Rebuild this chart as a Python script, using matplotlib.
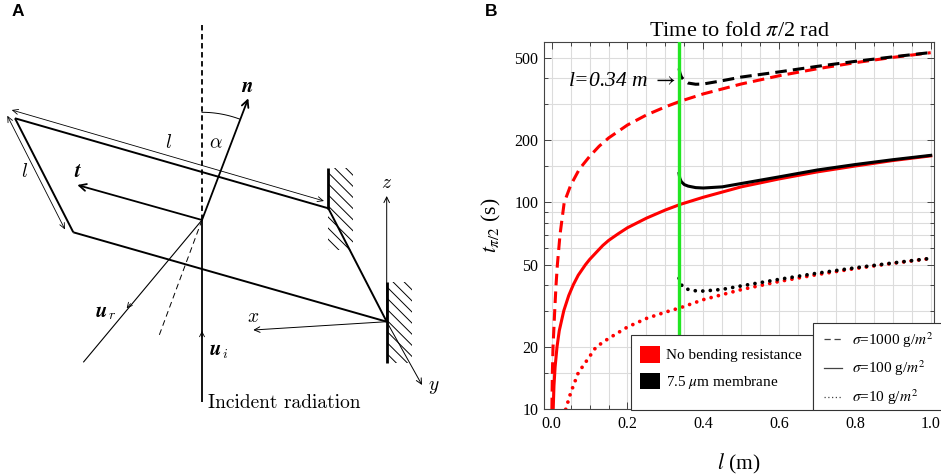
import numpy as np
import matplotlib
matplotlib.use('Agg')
import matplotlib.pyplot as plt
from matplotlib.patches import Rectangle, Patch
from matplotlib.lines import Line2D
from matplotlib.ticker import FixedLocator, NullFormatter

plt.rcParams['font.family'] = ['Liberation Serif', 'DejaVu Serif']
plt.rcParams['mathtext.fontset'] = 'stix'
plt.rcParams['hatch.linewidth'] = 0.7

# ---------------- Panel B data ----------------
l_red_1000 = [0.0005, 0.0018, 0.0035, 0.008, 0.0115, 0.015, 0.022, 0.033, 0.05, 0.073, 0.1,
              0.125, 0.15, 0.2, 0.25, 0.3, 0.34, 0.4, 0.5, 0.6, 0.7, 0.8, 0.9, 1.0]
t_red_1000 = [10, 15, 20, 30, 40, 50, 70, 100, 121, 145, 167,
              187, 205, 237, 265, 290, 309, 335, 374, 410, 443, 474, 503, 530]

l_red_100 = [0.004, 0.006, 0.009, 0.014, 0.02, 0.032, 0.045, 0.057, 0.07, 0.089, 0.1, 0.12,
             0.135, 0.15, 0.175, 0.2, 0.25, 0.3, 0.34, 0.4, 0.5, 0.6, 0.7, 0.8, 0.9, 1.0]
t_red_100 = [10, 13, 16, 20, 24, 30, 35.5, 40, 44.5, 50, 53, 58,
             62, 65.5, 70.5, 75.5, 84, 92, 98, 106, 119, 130, 140.5, 150, 159.5, 168]

l_red_10 = [0.037, 0.05, 0.07, 0.1, 0.117, 0.15, 0.2, 0.25, 0.3, 0.34, 0.4, 0.5, 0.6, 0.7,
            0.8, 0.9, 1.0]
t_red_10 = [10, 12, 15, 18, 20, 22, 25, 27.5, 29.5, 31, 33.9, 37.9, 41.5, 44.8,
            47.9, 50.8, 53.6]

l_black = [0.336, 0.338, 0.342, 0.35, 0.36, 0.38, 0.4, 0.45, 0.5, 0.6, 0.7, 0.8, 0.9, 1.0]
t_black_1000 = [445, 425, 405, 388, 378, 373, 374, 388, 404, 428, 455, 481, 506, 531]
t_black_100 = [138, 131, 126, 122, 120, 118, 117.5, 119, 123.5, 133, 143.5, 152.5, 161, 169]
t_black_10 = [43, 41.5, 40, 38.6, 38, 37.4, 37.3, 38, 39.5, 42.5, 45.5, 48.3, 51, 53.7]

l_threshold = 0.335
annot_text = r'l=0.34 m $\rightarrow$'
legend_colors = ['No bending resistance', r'7.5 $\mu$m membrane']
legend_sigma = [r'$\sigma$=1000 g/$m^2$', r'$\sigma$=100 g/$m^2$', r'$\sigma$=10 g/$m^2$']
y_major = [10, 20, 50, 100, 200, 500]
y_minor = [15, 30, 40, 60, 70, 80, 90, 150, 300, 400]
x_major = [0.0, 0.2, 0.4, 0.6, 0.8, 1.0]
x_minor = [0.05, 0.1, 0.15, 0.25, 0.3, 0.35, 0.45, 0.5, 0.55, 0.65, 0.7, 0.75, 0.85, 0.9, 0.95]

# ---------------- Panel A geometry (pixel space of the left half) ----------------
P = (202, 220)
dash_top = (202, 25)
n_tip = (248.3, 98.3)
t_tip = (77.3, 185)
TL, TR, BL, BR = (15, 118.3), (328.3, 208.3), (73.3, 232.3), (386.7, 321.7)
dim_top = [(11.7, 110), (324, 201)]
dim_left = [(7.3, 115.7), (65, 229.5)]
wall1 = [(328.3, 168.3), (328.3, 209.3)]
wall2 = [(386.7, 281.7), (386.7, 363.3)]
hatch1 = (328.3, 168.3, 24.7, 81.7)
hatch2 = (386.7, 281.7, 25.0, 81.6)
z_tip, x_tip, y_tip = (386.7, 196), (253.3, 330), (422, 385)
ur_end = (83.3, 362.3)
ur_mid = (126.7, 308.3)
dash_refl_end = (158.3, 337.7)
inc_end = (202, 401.7)
inc_mid = (202, 331)
R_ARC = 107.7

W, H = 941, 474
fig = plt.figure(figsize=(W / 100, H / 100), dpi=100)

# ================= Panel A =================
ax0 = fig.add_axes([0, 0, 470 / W, 1])
ax0.set_xlim(0, 470)
ax0.set_ylim(474, 0)
ax0.axis('off')

def seg(a, b, **kw):
    ax0.plot([a[0], b[0]], [a[1], b[1]], color='k', solid_capstyle='butt', **kw)

def arrow(tail, tip, lw=1.0, hl=0.5, hw=0.25):
    ax0.annotate('', xy=tip, xytext=tail,
                 arrowprops=dict(arrowstyle=f'->,head_length={hl},head_width={hw}',
                                 lw=lw, color='k', shrinkA=0, shrinkB=0))

# plate
for a, b in [(TL, TR), (TL, BL), (BL, BR), (TR, BR)]:
    seg(a, b, lw=1.4)
# dimension lines
ax0.annotate('', xy=dim_top[1], xytext=dim_top[0],
             arrowprops=dict(arrowstyle='<->,head_length=0.4,head_width=0.18', lw=0.6,
                             color='k', shrinkA=0, shrinkB=0))
ax0.annotate('', xy=dim_left[1], xytext=dim_left[0],
             arrowprops=dict(arrowstyle='<->,head_length=0.4,head_width=0.18', lw=0.6,
                             color='k', shrinkA=0, shrinkB=0))
# walls
seg(*wall1, lw=2.0)
seg(*wall2, lw=2.0)
for (hx, hy, hw_, hh) in [hatch1, hatch2]:
    ax0.add_patch(Rectangle((hx, hy), hw_, hh, fill=False, hatch='\\\\\\', lw=0,
                            edgecolor='k'))
# vertical dashed and incident line
ax0.plot([dash_top[0], P[0]], [dash_top[1], P[1]], color='k', lw=1.3,
         linestyle=(0, (3.0, 2.0)))
seg(P, inc_end, lw=1.3)
arrow((inc_mid[0], inc_mid[1] + 6), inc_mid, lw=0.6, hl=0.35, hw=0.18)
# n, t arrows
arrow(P, n_tip, lw=1.3)
arrow(P, t_tip, lw=1.3)
# alpha arc
th_n = np.arctan2(n_tip[0] - P[0], P[1] - n_tip[1])
th = np.linspace(0, th_n, 40)
ax0.plot(P[0] + R_ARC * np.sin(th), P[1] - R_ARC * np.cos(th), color='k', lw=0.7)
# reflected ray and dashed normal extension
seg(P, ur_end, lw=0.8)
d = np.array(ur_end) - np.array(P)
d = d / np.hypot(*d)
arrow((ur_mid[0] - 6 * d[0], ur_mid[1] - 6 * d[1]), ur_mid, lw=0.6, hl=0.35, hw=0.18)
ax0.plot([P[0], dash_refl_end[0]], [P[1], dash_refl_end[1]], color='k', lw=0.7,
         linestyle=(0, (6, 4)))
# axes
arrow(BR, z_tip, lw=0.7, hl=0.4, hw=0.2)
arrow(BR, x_tip, lw=0.7, hl=0.4, hw=0.2)
arrow(BR, y_tip, lw=0.7, hl=0.4, hw=0.2)

cm = dict(math_fontfamily='cm', fontsize=14, ha='center', va='center')
bi = dict(family='STIXGeneral', weight='bold', style='italic', fontsize=15,
          ha='center', va='center')
ax0.text(247.3, 86, 'n', **bi)
ax0.text(76.7, 171.7, 't', **bi)
ax0.text(216, 143.3, r'$\alpha$', **cm)
ax0.text(168.3, 143, r'$l$', **cm)
ax0.text(25, 172, r'$l$', **cm)
ax0.text(387, 183, r'$z$', **cm)
ax0.text(253.3, 317, r'$x$', **cm)
ax0.text(434, 387, r'$y$', **cm)
ax0.text(101.7, 311, 'u', **bi)
ax0.text(112, 315.5, r'$r$', math_fontfamily='cm', fontsize=10, ha='center', va='center')
ax0.text(216, 349, 'u', **bi)
ax0.text(225.5, 354, r'$i$', math_fontfamily='cm', fontsize=10, ha='center', va='center')
ax0.text(208.3, 403.3, 'Incident radiation', family='cmr10', fontsize=14,
         ha='left', va='center')

fig.text(11.7 / W, 1 - 4 / H, 'A', family='Liberation Sans', weight='bold', fontsize=12.5,
         ha='left', va='top')
fig.text(485 / W, 1 - 4 / H, 'B', family='Liberation Sans', weight='bold', fontsize=12.5,
         ha='left', va='top')

# ================= Panel B =================
ax = fig.add_axes([544 / W, 1 - 409.3 / H, (934 - 544) / W, (409.3 - 41.7) / H])
ax.set_yscale('log')
ax.set_xlim(-0.0203, 1.0087)
ax.set_ylim(10, 599)

LW = 2.2
dash = (0, (3.8, 2.0))
dot = (0, (0.01, 2.0))
ax.plot(l_red_1000, t_red_1000, color='red', lw=LW, linestyle=dash, dash_capstyle='butt')
ax.plot(l_red_100, t_red_100, color='red', lw=LW)
ax.plot(l_red_10, t_red_10, color='red', lw=2.7, linestyle=dot, dash_capstyle='round')
ax.plot(l_black, t_black_1000, color='black', lw=LW, linestyle=dash, dash_capstyle='butt')
ax.plot(l_black, t_black_100, color='black', lw=LW)
ax.plot(l_black, t_black_10, color='black', lw=2.7, linestyle=dot, dash_capstyle='round')
ax.axvline(l_threshold, color='#22e622', lw=2.4, zorder=3)

ax.text(0.329, 384, annot_text, style='italic', fontsize=15.5, ha='right', va='center')

ax.yaxis.set_major_locator(FixedLocator(y_major))
ax.yaxis.set_minor_locator(FixedLocator(y_minor))
ax.set_yticklabels([str(v) for v in y_major])
ax.yaxis.set_minor_formatter(NullFormatter())
ax.xaxis.set_major_locator(FixedLocator(x_major))
ax.xaxis.set_minor_locator(FixedLocator(x_minor))
ax.set_xticklabels([f'{v:.1f}' for v in x_major])
ax.grid(True, which='both', color='#dcdcdc', lw=0.8)
ax.set_axisbelow(True)
ax.tick_params(which='both', direction='in', top=True, right=True, color='#444',
               labelsize=11.5, width=0.7)
ax.tick_params(which='major', length=5)
ax.tick_params(which='minor', length=3)
ax.tick_params(axis='x', pad=5)
ax.tick_params(axis='y', pad=4)
for s in ax.spines.values():
    s.set_color('#444')
    s.set_linewidth(0.8)

ax.set_title(r'Time to fold $\pi$/2 rad', fontsize=16, pad=4)
ax.set_xlabel(r'$l$ (m)', fontsize=15.5, labelpad=14)
ax.set_ylabel(r'$t_{\pi/2}$ (s)', fontsize=15.5, labelpad=8)

# legend boxes
for (x0, x1, y0, y1) in [(630.7, 813.3, 335, 410), (813.3, 960, 323.3, 410)]:
    ax.add_patch(Rectangle((x0 / W, 1 - y1 / H), (x1 - x0) / W, (y1 - y0) / H,
                           transform=fig.transFigure, facecolor='white', edgecolor='#333',
                           lw=0.8, clip_on=False, zorder=4))

leg1 = ax.legend(handles=[Patch(facecolor='red', edgecolor='none'),
                          Patch(facecolor='black', edgecolor='none')],
                 labels=legend_colors, loc='upper left',
                 bbox_to_anchor=(640 / W, 1 - 346 / H), bbox_transform=fig.transFigure,
                 frameon=False, borderpad=0, borderaxespad=0, handlelength=1.3,
                 handleheight=1.3, handletextpad=0.4, labelspacing=0.65, fontsize=11)
leg1.set_zorder(6)
ax.add_artist(leg1)
leg2 = ax.legend(handles=[Line2D([], [], color='#444', lw=0.9, linestyle=(0, (5, 3))),
                          Line2D([], [], color='#444', lw=0.9),
                          Line2D([], [], color='#444', lw=0.9, linestyle=(0, (1, 2)))],
                 labels=legend_sigma, loc='upper left',
                 bbox_to_anchor=(824 / W, 1 - 330 / H), bbox_transform=fig.transFigure,
                 frameon=False, borderpad=0, borderaxespad=0, handlelength=1.15,
                 handletextpad=0.7, labelspacing=0.6, fontsize=11)
leg2.set_zorder(6)

fig.savefig('out.png', dpi=100)
